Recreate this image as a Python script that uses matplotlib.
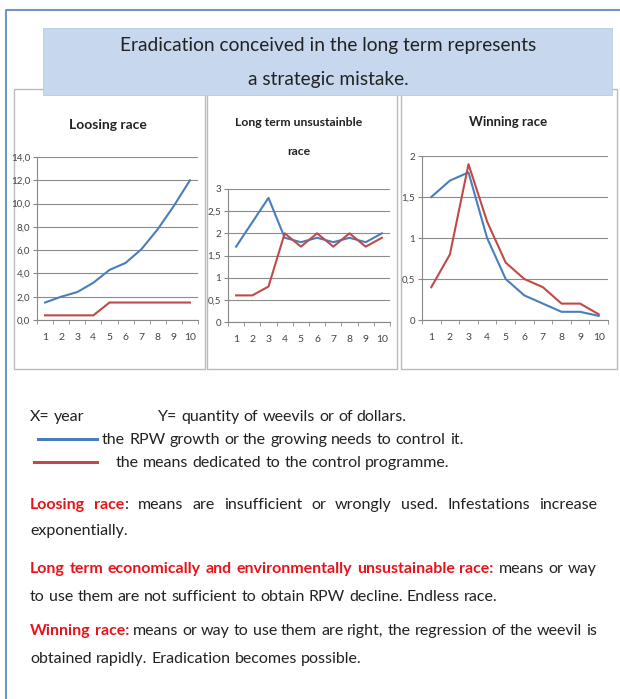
import matplotlib
matplotlib.use('Agg')
import matplotlib.pyplot as plt
from matplotlib.patches import Rectangle
from matplotlib.lines import Line2D

# Dados das curvas
years = list(range(1, 11))
loosing_rpw = [1.5, 2.0, 2.4, 3.2, 4.3, 4.9, 6.1, 7.8, 9.8, 12.0]
loosing_means = [0.4, 0.4, 0.4, 0.4, 1.5, 1.5, 1.5, 1.5, 1.5, 1.5]
longterm_rpw = [1.7, 2.25, 2.8, 1.9, 1.8, 1.9, 1.8, 1.9, 1.8, 2.0]
longterm_means = [0.6, 0.6, 0.8, 2.0, 1.7, 2.0, 1.7, 2.0, 1.7, 1.9]
winning_rpw = [1.5, 1.7, 1.8, 1.0, 0.5, 0.3, 0.2, 0.1, 0.1, 0.05]
winning_means = [0.4, 0.8, 1.9, 1.2, 0.7, 0.5, 0.4, 0.2, 0.2, 0.07]

loosing_yticks = [0, 2, 4, 6, 8, 10, 12, 14]
loosing_ylabels = ["0,0", "2,0", "4,0", "6,0", "8,0", "10,0", "12,0", "14,0"]
longterm_yticks = [0, 0.5, 1, 1.5, 2, 2.5, 3]
longterm_ylabels = ["0", "0,5", "1", "1,5", "2", "2,5", "3"]
winning_yticks = [0, 0.5, 1, 1.5, 2]
winning_ylabels = ["0", "0,5", "1", "1,5", "2"]

BLUE = "#4A7EBB"
RED = "#BE4B48"
TXT_RED = "#E8141B"
TXT = "#222222"

plt.rcParams["font.family"] = ["Lato", "DejaVu Sans"]

W, H = 620, 699
fig = plt.figure(figsize=(W / 100, H / 100), dpi=100)
renderer = fig.canvas.get_renderer()


def fx(x):
    return x / W


def fy(y):
    return 1 - y / H


# Moldura externa
fig.add_artist(Line2D([fx(6), fx(6), fx(620)], [fy(699), fy(10), fy(10)],
                      color="#6F95CB", lw=1.5))

# Caixas dos gráficos (atrás dos eixos)
for x0, x1 in [(14, 205), (207, 397), (401, 617)]:
    fig.add_artist(Rectangle((fx(x0), fy(369)), (x1 - x0) / W, (369 - 89) / H,
                             facecolor="white", edgecolor="#BBBBBB", lw=1.0, zorder=-5))

# Caixa do título
fig.add_artist(Rectangle((fx(43), fy(95)), (612 - 43) / W, (95 - 28) / H,
                         facecolor="#C6D7EE", edgecolor="#B8CBE4", lw=0.6, zorder=2))
fig.text(fx(328), fy(46), "Eradication conceived in the long term represents",
         ha="center", va="center", fontsize=13.8, color=TXT, zorder=3)
fig.text(fx(328), fy(79), "a strategic mistake.",
         ha="center", va="center", fontsize=13.8, color=TXT, zorder=3)


def add_panel(x0, x1, ytop, ybot, yticks, ylabels, rpw, means, title, title_x, title_y, tsize):
    ax = fig.add_axes([fx(x0), fy(ybot), (x1 - x0) / W, (ybot - ytop) / H])
    ax.set_facecolor("none")
    ax.plot(years, rpw, color=BLUE, lw=1.5)
    ax.plot(years, means, color=RED, lw=1.5)
    ax.set_xlim(0.5, 10.5)
    ax.set_ylim(yticks[0], yticks[-1])
    ax.set_xticks(years)
    ax.set_xticklabels([str(v) for v in years])
    ax.set_xticks([v + 0.5 for v in range(0, 11)], minor=True)
    ax.set_yticks(yticks)
    ax.set_yticklabels(ylabels)
    ax.tick_params(axis="x", which="major", length=0, pad=9, labelsize=7.5, labelcolor="#444444")
    ax.tick_params(axis="x", which="minor", length=3, color="#888888")
    ax.tick_params(axis="y", length=3, color="#888888", pad=2, labelsize=7, labelcolor="#444444")
    ax.grid(axis="y", color="#8C8C8C", lw=0.8)
    ax.set_axisbelow(True)
    for s in ["top", "right"]:
        ax.spines[s].set_visible(False)
    for s in ["left", "bottom"]:
        ax.spines[s].set_color("#888888")
        ax.spines[s].set_linewidth(0.8)
    fig.text(fx(title_x), fy(title_y), title, ha="center", va="center",
             fontsize=tsize, fontweight="bold", color=TXT, linespacing=3.1)
    return ax


add_panel(37, 198, 157, 320, loosing_yticks, loosing_ylabels, loosing_rpw, loosing_means,
          "Loosing race", 108, 125, 10)
add_panel(228, 390, 189, 322, longterm_yticks, longterm_ylabels, longterm_rpw, longterm_means,
          "Long term unsustainble\nrace", 299, 137, 8.8)
add_panel(422, 608, 156, 320, winning_yticks, winning_ylabels, winning_rpw, winning_means,
          "Winning race", 508, 122, 9.5)

# Texto explicativo
BODY = 11.5


def text_width(s, weight="normal"):
    t = fig.text(0, 0, s, fontsize=BODY, fontweight=weight)
    w = t.get_window_extent(renderer).width
    t.remove()
    return w


def write_line(segments, x0, y, x1=None):
    tokens = []
    for text, color, weight in segments:
        words = text.split(" ")
        for i, w in enumerate(words):
            if w == "":
                continue
            glued = (i == 0 and not text.startswith(" ") and len(tokens) > 0)
            tokens.append([w, color, weight, glued])
    widths = [text_width(t[0], t[2]) for t in tokens]
    space = text_width("a a") - text_width("aa")
    ngaps = sum(1 for i, t in enumerate(tokens) if i > 0 and not t[3])
    gap = space
    if x1 is not None and ngaps > 0:
        gap = (x1 - x0 - sum(widths)) / ngaps
    x = x0
    for i, (tok, w) in enumerate(zip(tokens, widths)):
        if i > 0 and not tok[3]:
            x += gap
        fig.text(fx(x), fy(y), tok[0], color=tok[1], fontweight=tok[2],
                 fontsize=BODY, ha="left", va="baseline")
        x += w


write_line([("X= year", TXT, "normal")], 30, 421)
write_line([("Y= quantity of weevils or of dollars.", TXT, "normal")], 158, 421)
fig.add_artist(Line2D([fx(38), fx(97)], [fy(439), fy(439)], color=BLUE, lw=2.2))
write_line([("the RPW growth or the growing needs to control it.", TXT, "normal")], 102, 444)
fig.add_artist(Line2D([fx(34), fx(97)], [fy(462), fy(462)], color=RED, lw=2.2))
write_line([("the means dedicated to the control programme.", TXT, "normal")], 116, 467)
write_line([("Loosing race", TXT_RED, "bold"),
            (": means are insufficient or wrongly used. Infestations increase", TXT, "normal")],
           30, 509, 597)
write_line([("exponentially.", TXT, "normal")], 30, 535)
write_line([("Long term economically and environmentally unsustainable race:", TXT_RED, "bold"),
            (" means or way", TXT, "normal")], 30, 573, 597)
write_line([("to use them are not sufficient to obtain RPW decline. Endless race.", TXT, "normal")],
           30, 601)
write_line([("Winning race:", TXT_RED, "bold"),
            (" means or way to use them are right, the regression of the weevil is", TXT, "normal")],
           30, 635, 597)
write_line([("obtained rapidly. Eradication becomes possible.", TXT, "normal")], 30, 663)

plt.savefig("out.png", dpi=100)
